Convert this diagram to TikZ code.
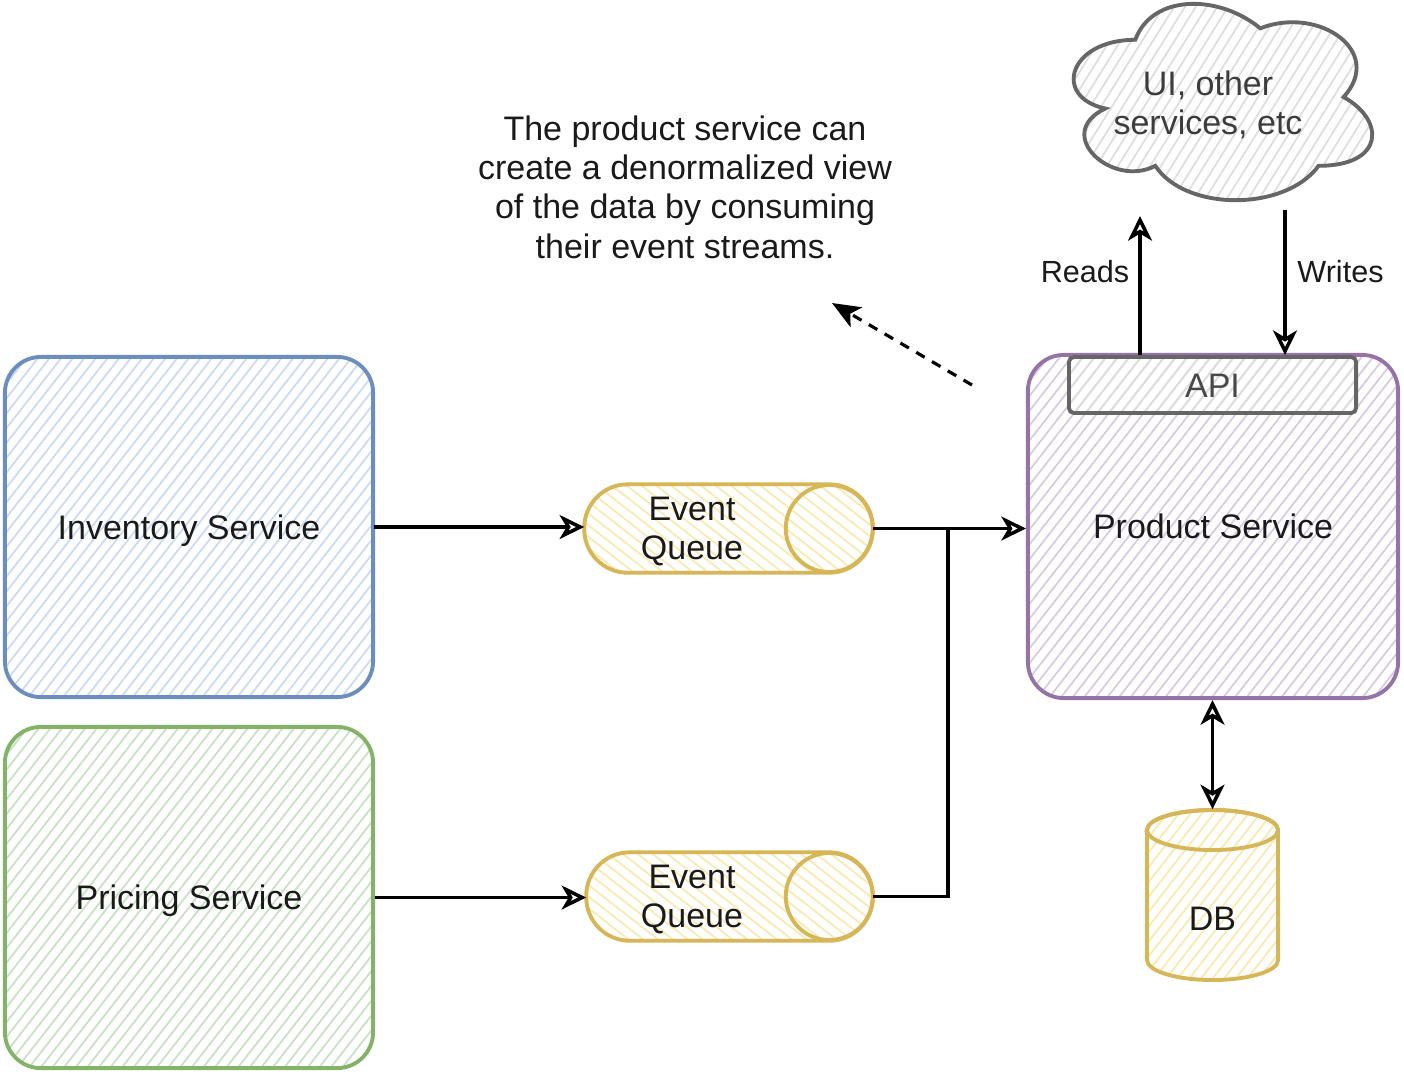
\documentclass[tikz,border=0pt]{standalone}
\usepackage{fontspec}
\setmainfont{Liberation Sans}
\usetikzlibrary{patterns.meta,arrows.meta,calc}
\definecolor{bluS}{HTML}{6C8EBF}\definecolor{bluF}{HTML}{C9DBF3}
\definecolor{grnS}{HTML}{82B366}\definecolor{grnF}{HTML}{C6E2C3}
\definecolor{ylwS}{HTML}{D6B656}\definecolor{ylwF}{HTML}{FAEAAE}
\definecolor{purS}{HTML}{9673A6}\definecolor{purF}{HTML}{D8CAE2}
\definecolor{gryS}{HTML}{666666}\definecolor{gryF}{HTML}{DEDEDE}
\definecolor{txt}{HTML}{1A1A1A}
\pgfdeclarelayer{bg}\pgfdeclarelayer{shapes}
\pgfsetlayers{bg,shapes,main}
\begin{document}
\begin{tikzpicture}[x=0.01cm,y=-0.01cm,
  every node/.style={font=\fontsize{9.67pt}{11.18pt}\selectfont, text=txt, inner sep=0pt},
  oneline/.style={text height=0.245cm, text depth=0pt},
  small/.style={font=\fontsize{8.7pt}{10pt}\selectfont},
  box/.style 2 args={draw=#1, line width=1.1pt, rounded corners=0.36cm,
     pattern={Lines[angle=52,distance=2.6pt,line width=0.5pt]}, pattern color=#2},
  eqbody/.style={draw=ylwS, line width=1.1pt, rounded corners=0.435cm,
     pattern={Lines[angle=-38,distance=2.6pt,line width=0.5pt]}, pattern color=ylwF},
  yline/.style={draw=ylwS, line width=1.1pt},
  dbbody/.style={draw=ylwS, line width=1.1pt,
     pattern={Lines[angle=52,distance=2.6pt,line width=0.5pt]}, pattern color=ylwF},
  cloudst/.style={draw=gryS, line width=1.1pt,
     pattern={Lines[angle=58,distance=2.6pt,line width=0.5pt]}, pattern color=gryF},
  arr/.style={line width=1pt, -{Stealth[open, length=7pt, width=6.8pt, inset=2pt]}},
  biarr/.style={line width=1pt, {Stealth[open, length=7pt, width=6.8pt, inset=2pt]}-{Stealth[open, length=7pt, width=6.8pt, inset=2pt]}},
  plain/.style={line width=1pt},
  dasharr/.style={line width=0.9pt, dash pattern=on 2.8pt off 2.4pt, -{Stealth[length=8pt, width=6.5pt, inset=2pt]}}
]
\begin{pgfonlayer}{bg}
\fill[white] (0,0) rectangle (1404,1075);
\end{pgfonlayer}
\useasboundingbox (0,0) rectangle (1404,1075);

% service boxes
\node[box={bluS}{bluF}, oneline, minimum width=3.68cm, minimum height=3.4cm] (inv) at (189,527) {Inventory Service};
\node[box={grnS}{grnF}, oneline, minimum width=3.68cm, minimum height=3.41cm] (pri) at (189,897.5) {Pricing Service};
\node[box={purS}{purF}, oneline, minimum width=3.7cm, minimum height=3.43cm] (prod) at (1213,526.5) {Product Service};
\node[draw=gryS, line width=1.1pt, rounded corners=0.05cm, oneline, text=txt!80,
      pattern={Lines[angle=52,distance=2.6pt,line width=0.5pt]}, pattern color=gryF,
      minimum width=2.87cm, minimum height=0.56cm] (api) at (1212.5,385) {API};

% event queues
\node[minimum width=2.87cm, minimum height=0.87cm,
      label={[align=center, xshift=-0.365cm, yshift=-0.03cm]center:{Event\\Queue}}] (eq1) at (728.5,528.5) {};
\node[minimum width=2.85cm, minimum height=0.87cm,
      label={[align=center, xshift=-0.375cm, yshift=-0.03cm]center:{Event\\Queue}}] (eq2) at (729.5,896.5) {};
\begin{pgfonlayer}{shapes}
\draw[eqbody] (eq1.south west) rectangle (eq1.north east);
\draw[yline] ($(eq1.east)+(-43.5,0)$) circle[radius=0.435cm];
\draw[eqbody] (eq2.south west) rectangle (eq2.north east);
\draw[yline] ($(eq2.east)+(-43.5,0)$) circle[radius=0.435cm];
% DB cylinder
\draw[dbbody] (1147,830) -- (1147,960) arc[start angle=180, end angle=360, x radius=0.655cm, y radius=0.2cm]
   -- (1278,830) arc[start angle=0, end angle=180, x radius=0.655cm, y radius=0.2cm] -- cycle;
\draw[yline] (1212.5,830) ellipse[x radius=0.655cm, y radius=0.2cm];
% cloud
\begin{scope}[shift={(1052,-17.5)}, x=3.33cm, y=-2.29cm]
\draw[cloudst] (0.25,0.25) .. controls (0.05,0.25) and (0,0.5) .. (0.16,0.55)
  .. controls (0,0.66) and (0.18,0.9) .. (0.31,0.8)
  .. controls (0.4,1) and (0.7,1) .. (0.8,0.8)
  .. controls (1,0.8) and (1,0.6) .. (0.875,0.5)
  .. controls (1,0.3) and (0.8,0.1) .. (0.625,0.2)
  .. controls (0.5,0.05) and (0.3,0.05) .. (0.25,0.25) -- cycle;
\end{scope}
\end{pgfonlayer}
\node[minimum width=1.31cm, minimum height=1.7cm] (db) at (1212.5,895) {};
\node[oneline] (dblabel) at (1212.5,918) {DB};
\node[align=center, text=txt!85] (cloud) at (1208,105) {UI, other\\services, etc};

% annotation
\node[align=center] (note) at (685,187) {The product service can\\create a denormalized view\\of the data by consuming\\their event streams.};
\node[small, text height=0.22cm, text depth=0pt] (reads) at (1085,271) {Reads};
\node[small, text height=0.22cm, text depth=0pt] (writes) at (1340.5,271) {Writes};

% coordinates
\coordinate (junc) at (948,528.5);
\coordinate (readtip) at (1140,216);
\coordinate (writetail) at (1285,210);
\coordinate (dstart) at (972,385);
\coordinate (dend) at (832,303);

% connectors
\draw[arr] (inv.east) -- (inv.east -| eq1.west);
\draw[arr] (pri.east) -- (pri.east -| eq2.west);
\draw[arr] (eq1.east) -- (eq1.east -| prod.west);
\draw[plain] (eq2.east) -| (junc);
\draw[arr] (api.north -| readtip) -- (readtip);
\draw[arr] (writetail) -- (writetail |- api.north);
\draw[biarr] (prod.south -| db.north) -- (db.north);
\draw[dasharr] (dstart) -- (dend);
\end{tikzpicture}
\end{document}
